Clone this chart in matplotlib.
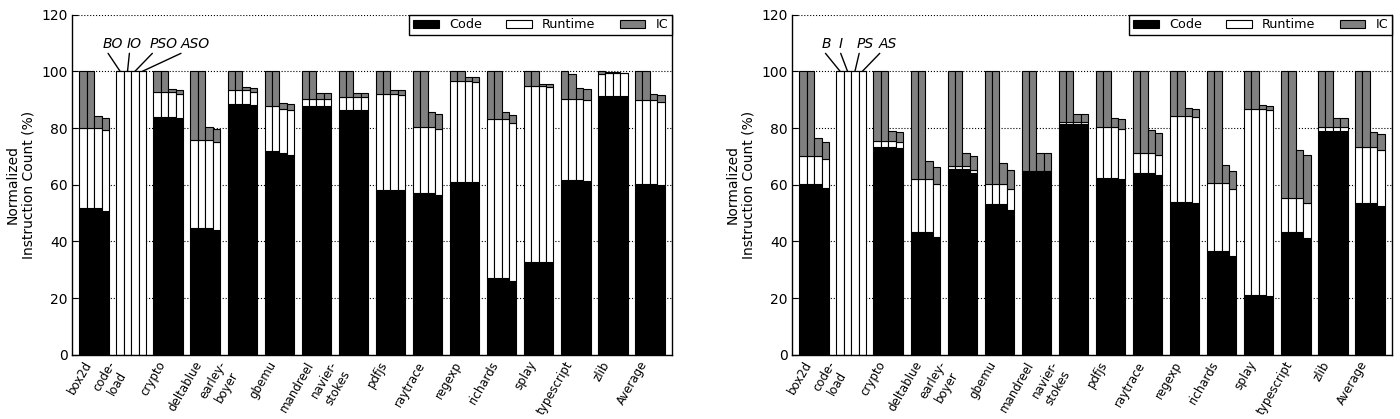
import matplotlib
matplotlib.use("Agg")
import matplotlib.pyplot as plt
import numpy as np

benchmarks = ["box2d", "code-\nload", "crypto", "deltablue", "earley-\nboyer", "gbemu",
              "mandreel", "navier-\nstokes", "pdfjs", "raytrace", "regexp", "richards",
              "splay", "typescript", "zlib", "Average"]

# left panel: one row per benchmark, columns BO, IO, PSO, ASO
left_configs = ["BO", "IO", "PSO", "ASO"]
left_code = [
    [51.6, 51.6, 51.6, 50.8], [0, 0, 0, 0], [83.9, 83.9, 83.9, 83.5],
    [44.7, 44.7, 44.7, 43.9], [88.5, 88.5, 88.5, 88.2], [71.8, 71.8, 71.1, 70.6],
    [87.7, 87.7, 87.7, 87.7], [86.3, 86.3, 86.3, 86.3], [58.0, 58.0, 58.0, 58.0],
    [57.1, 57.1, 57.1, 56.4], [61.0, 61.0, 61.0, 61.0], [26.9, 26.9, 26.9, 26.0],
    [32.7, 32.7, 32.7, 32.7], [61.5, 61.5, 61.6, 61.2], [91.2, 91.2, 91.2, 91.2],
    [60.2, 60.2, 60.2, 59.9],
]
left_runtime = [
    [28.4, 28.4, 28.4, 28.4], [100, 100, 100, 100], [8.8, 8.8, 8.8, 8.6],
    [31.2, 31.2, 31.2, 31.2], [4.8, 4.8, 4.8, 4.5], [15.9, 15.9, 15.7, 15.9],
    [2.5, 2.5, 2.5, 2.5], [4.7, 4.7, 4.7, 4.7], [33.9, 33.9, 33.9, 33.7],
    [23.3, 23.3, 23.3, 23.2], [35.6, 35.6, 35.6, 35.4], [56.2, 56.2, 56.2, 55.9],
    [62.1, 62.1, 62.1, 61.9], [28.9, 28.6, 28.6, 28.8], [8.0, 8.2, 8.3, 8.2],
    [29.6, 29.6, 29.6, 29.4],
]
left_ic = [
    [20.0, 20.0, 4.4, 4.3], [0, 0, 0, 0], [7.3, 7.3, 1.2, 1.4],
    [24.1, 24.1, 4.6, 4.7], [6.7, 6.7, 1.2, 1.4], [12.3, 12.3, 2.2, 1.9],
    [9.8, 9.8, 2.2, 2.2], [9.0, 9.0, 1.5, 1.5], [8.1, 8.1, 1.6, 1.6],
    [19.6, 19.6, 5.3, 5.4], [3.4, 3.4, 1.4, 1.6], [16.9, 16.9, 2.6, 2.8],
    [5.2, 5.2, 0.9, 0.8], [9.6, 9.1, 4.0, 3.9], [0.8, 0.5, 0.1, 0.1],
    [10.2, 10.2, 2.1, 2.2],
]

# right panel: columns B, I, PS, AS
right_configs = ["B", "I", "PS", "AS"]
right_code = [
    [60.2, 60.2, 60.2, 59.0], [0, 0, 0, 0], [73.3, 73.3, 73.3, 73.0],
    [43.4, 43.4, 43.4, 41.7], [65.6, 65.6, 65.6, 64.2], [53.2, 53.2, 53.2, 51.0],
    [64.4, 64.4, 64.4, 64.4], [81.3, 81.3, 81.3, 81.3], [62.5, 62.5, 62.5, 62.0],
    [64.0, 64.0, 64.0, 63.3], [53.8, 53.8, 53.8, 53.5], [36.7, 36.7, 36.7, 34.8],
    [20.9, 20.9, 20.9, 20.6], [43.2, 43.2, 43.2, 41.1], [79.0, 79.0, 79.0, 79.0],
    [53.6, 53.6, 53.6, 52.5],
]
right_runtime = [
    [10.0, 10.0, 10.0, 9.9], [100, 100, 100, 100], [2.0, 2.0, 2.0, 1.9],
    [18.5, 18.5, 18.5, 18.5], [0.9, 0.9, 0.9, 0.9], [7.2, 7.2, 7.2, 7.3],
    [0.5, 0.5, 0.5, 0.5], [0.8, 0.8, 0.8, 0.8], [17.9, 17.9, 17.9, 17.8],
    [7.2, 7.2, 7.2, 7.2], [30.5, 30.5, 30.5, 30.4], [23.9, 23.9, 23.9, 23.8],
    [65.7, 65.7, 65.7, 65.7], [12.1, 12.1, 12.1, 12.4], [1.3, 1.3, 1.3, 1.3],
    [19.7, 19.7, 19.7, 19.9],
]
right_ic = [
    [29.8, 29.8, 6.3, 6.3], [0, 0, 0, 0], [24.7, 24.7, 3.5, 3.6],
    [38.1, 38.1, 6.3, 6.2], [33.5, 33.5, 4.8, 4.9], [39.6, 39.6, 7.1, 7.0],
    [35.1, 35.1, 6.4, 6.4], [17.9, 17.9, 3.0, 3.0], [19.6, 19.6, 3.1, 3.3],
    [28.8, 28.8, 8.0, 7.9], [15.7, 15.7, 2.9, 2.9], [39.4, 39.4, 6.3, 6.3],
    [13.4, 13.4, 1.6, 1.5], [44.7, 44.7, 17.1, 16.9], [19.7, 19.7, 3.2, 3.2],
    [26.7, 26.7, 5.3, 5.4],
]

# where the config names sit above the code-load bars (x in data units)
left_label_x = [0.89, 1.48, 2.27, 3.14]
right_label_x = [0.72, 1.12, 1.77, 2.39]

BAR_W = 0.2
GRAY = "#808080"


def draw_panel(ax, code, runtime, ic, configs, label_x):
    code = np.array(code)
    runtime = np.array(runtime)
    ic = np.array(ic)
    groups = np.arange(len(benchmarks))
    ax.set_axisbelow(True)
    ax.yaxis.grid(True, linestyle=":", color="black", linewidth=0.8)
    for j in range(len(configs)):
        x = groups + j * BAR_W
        kw = dict(width=BAR_W, align="edge", edgecolor="black", linewidth=0.8)
        ax.bar(x, code[:, j], color="black", label="Code" if j == 0 else None, **kw)
        ax.bar(x, runtime[:, j], bottom=code[:, j], color="white",
               label="Runtime" if j == 0 else None, **kw)
        ax.bar(x, ic[:, j], bottom=code[:, j] + runtime[:, j], color=GRAY,
               label="IC" if j == 0 else None, **kw)

    # point each config name at its code-load bar
    cl = benchmarks.index("code-\nload")
    for j, name in enumerate(configs):
        top = code[cl, j] + runtime[cl, j] + ic[cl, j]
        ax.annotate(name, xy=(cl + (j + 0.5) * BAR_W, top), xytext=(label_x[j], 109.8),
                    ha="center", va="center", fontsize=10, style="italic",
                    arrowprops=dict(arrowstyle="-", color="black", lw=1.0,
                                    shrinkA=0, shrinkB=0, relpos=(0.2, 0.0)))

    ax.set_xlim(-0.2, len(benchmarks))
    ax.set_ylim(0, 120)
    ax.set_yticks(np.arange(0, 121, 20))
    ax.set_xticks(groups + 2 * BAR_W)
    ax.set_xticklabels(benchmarks, rotation=60, ha="right",
                       multialignment="center", fontsize=8.5)
    ax.tick_params(axis="x", length=0, pad=3)
    ax.tick_params(axis="y", direction="in", length=4, width=0.8, pad=3,
                   labelsize=10, right=False)
    ax.spines["top"].set_visible(False)
    for s in ("left", "right", "bottom"):
        ax.spines[s].set_linewidth(1.0)
    ax.set_ylabel("Normalized\nInstruction Count (%)", fontsize=10, labelpad=4)
    leg = ax.legend(loc="upper right", ncol=3, fontsize=9.2, borderaxespad=0,
                    fancybox=False, framealpha=1, edgecolor="black",
                    borderpad=0.3, handlelength=2.0, handleheight=0.6,
                    columnspacing=1.9)
    leg.get_frame().set_linewidth(1.0)


fig = plt.figure(figsize=(14, 4.19), dpi=100)
ax1 = fig.add_axes([0.0514, 0.1535, 0.4286, 0.8115])
ax2 = fig.add_axes([0.5657, 0.1535, 0.4286, 0.8115])
draw_panel(ax1, left_code, left_runtime, left_ic, left_configs, left_label_x)
draw_panel(ax2, right_code, right_runtime, right_ic, right_configs, right_label_x)

fig.savefig("out.png", dpi=100, facecolor="white")
